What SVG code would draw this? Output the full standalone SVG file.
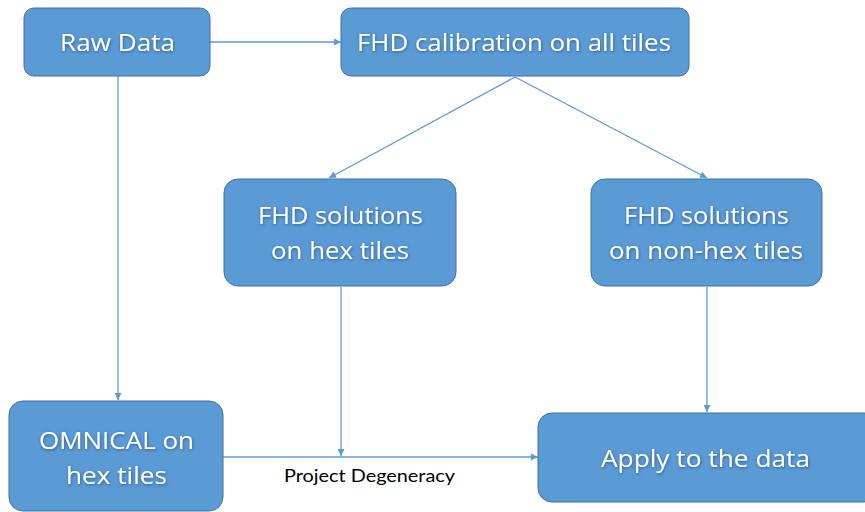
<svg xmlns="http://www.w3.org/2000/svg" width="865" height="512" viewBox="0 0 865 512">
<style>
.box{fill:#5B9BD5;stroke:#41719C;stroke-width:1}
.t{font-family:"Open Sans","Noto Sans",sans-serif;font-size:24px;fill:#fff;text-anchor:middle;filter:url(#glow)}
.ln{stroke:#5B9BD5;stroke-width:1.3;fill:none;marker-end:url(#ah)}
.lbl{font-family:Lato,"Open Sans",sans-serif;font-size:18px;fill:#000;text-anchor:middle}
</style>
<defs>
<marker id="ah" viewBox="0 0 10 10" refX="10" refY="5" markerWidth="7" markerHeight="7" markerUnits="userSpaceOnUse" orient="auto">
<path d="M0,0 L10,5 L0,10 z" fill="#5B9BD5"/>
</marker>
<filter id="glow" x="-10%" y="-30%" width="120%" height="160%">
<feDropShadow dx="0.5" dy="1" stdDeviation="1.5" flood-color="#1d3f66" flood-opacity="0.7"/>
</filter>
</defs>
<g id="connectors">
<line class="ln" x1="210" y1="42" x2="341" y2="42"/>
<line class="ln" x1="118" y1="76" x2="118" y2="400"/>
<line class="ln" x1="515" y1="77" x2="329" y2="178"/>
<line class="ln" x1="515" y1="77" x2="707" y2="178"/>
<line class="ln" x1="341" y1="287" x2="341" y2="456"/>
<line class="ln" x1="707" y1="287" x2="707" y2="412"/>
<line class="ln" x1="223" y1="457" x2="538" y2="457"/>
<text class="lbl" x="369.5" y="482" textLength="171" lengthAdjust="spacingAndGlyphs">Project Degeneracy</text>
</g>
<g id="raw">
<rect class="box" x="24" y="8" width="186" height="68" rx="10"/>
<text class="t" x="117.5" y="51" textLength="115" lengthAdjust="spacingAndGlyphs">Raw Data</text>
</g>
<g id="fhdcal">
<rect class="box" x="341" y="8" width="348" height="68" rx="10"/>
<text class="t" x="514" y="51" textLength="314" lengthAdjust="spacingAndGlyphs">FHD calibration on all tiles</text>
</g>
<g id="fhdhex">
<rect class="box" x="224" y="179" width="232" height="107" rx="14"/>
<text class="t" x="340.5" y="224" textLength="165" lengthAdjust="spacingAndGlyphs">FHD solutions</text>
<text class="t" x="340" y="259" textLength="138" lengthAdjust="spacingAndGlyphs">on hex tiles</text>
</g>
<g id="fhdnonhex">
<rect class="box" x="591" y="179" width="231" height="107" rx="14"/>
<text class="t" x="706.5" y="224" textLength="165" lengthAdjust="spacingAndGlyphs">FHD solutions</text>
<text class="t" x="706" y="259" textLength="194" lengthAdjust="spacingAndGlyphs">on non-hex tiles</text>
</g>
<g id="omnical">
<rect class="box" x="9" y="401" width="214" height="110" rx="14"/>
<text class="t" x="116.5" y="449" textLength="155" lengthAdjust="spacingAndGlyphs">OMNICAL on</text>
<text class="t" x="116.5" y="484" textLength="101" lengthAdjust="spacingAndGlyphs">hex tiles</text>
</g>
<g id="apply">
<rect class="box" x="538" y="413" width="340" height="89" rx="14"/>
<text class="t" x="705.5" y="467" textLength="209" lengthAdjust="spacingAndGlyphs">Apply to the data</text>
</g>
</svg>
